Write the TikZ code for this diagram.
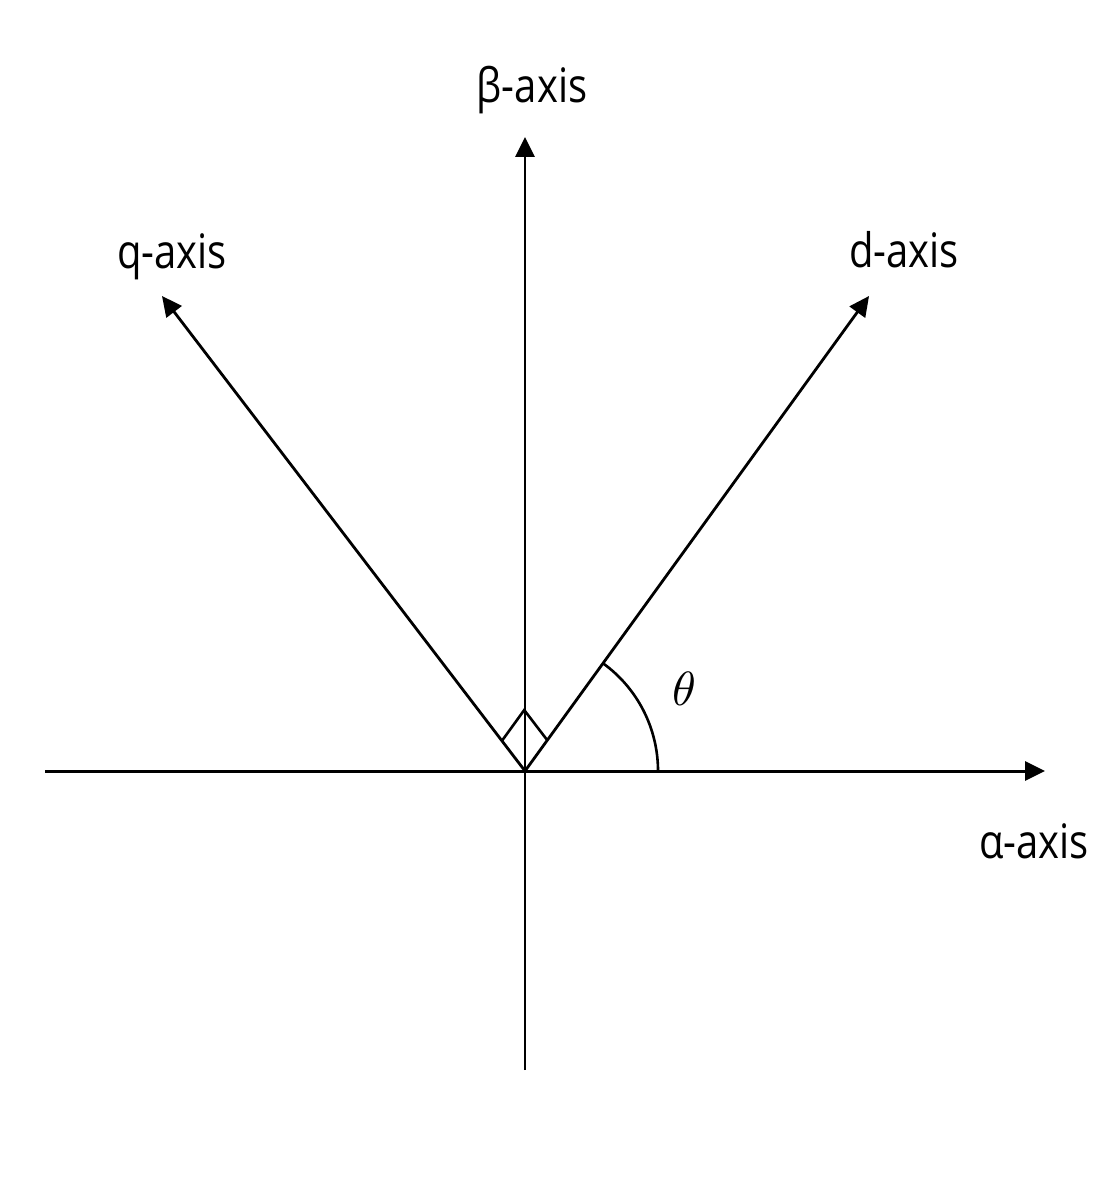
\documentclass[tikz,border=0pt]{standalone}
\usepackage{fontspec}
\setmainfont{Open Sans}
\usetikzlibrary{arrows.meta,calc}
\begin{document}
\begin{tikzpicture}[x=1pt,y=-1pt,
  axisline/.style={line width=2.8pt,-{Triangle[length=20pt,width=19pt]}},
  lbl/.style={font=\fontsize{50}{60}\selectfont,inner sep=0pt,anchor=base,xscale=0.8,yscale=0.95},
  thinline/.style={line width=2.6pt}]
\useasboundingbox (0,0) rectangle (1119,1185);
\coordinate (O) at (525,771);
\coordinate (aL) at (45,771);
\coordinate (aR) at (1045,771);
\coordinate (bB) at (525,1070);
\coordinate (bT) at (525,137);
\coordinate (dT) at (869,296);
\coordinate (qT) at (162,296);
\draw[axisline,line width=3pt] (aL) -- (aR);
\draw[axisline] (bB) -- (bT);
\draw[axisline] (O) -- (dT);
\draw[axisline] (O) -- (qT);
% right angle marker
\coordinate (rq) at ($(O)!38pt!(qT)$);
\coordinate (rd) at ($(O)!38pt!(dT)$);
\coordinate (rc) at ($(rq)+(rd)-(O)$);
\draw[thinline,line join=miter] (rq) -- (rc) -- (rd);
% theta arc
\draw[thinline] ($(O)+(133,0)$) arc[start angle=0,end angle=-54.1,radius=133];
% labels
\node[lbl] (beta) at (532,103) {β-axis};
\node[lbl] (q) at (172,268) {q-axis};
\node[lbl] (d) at (904,267) {d-axis};
\node[lbl] (alpha) at (1034,858) {α-axis};
\node[inner sep=0pt,scale=4.8,anchor=base] (th) at (684,705) {$\theta$};
\end{tikzpicture}
\end{document}
